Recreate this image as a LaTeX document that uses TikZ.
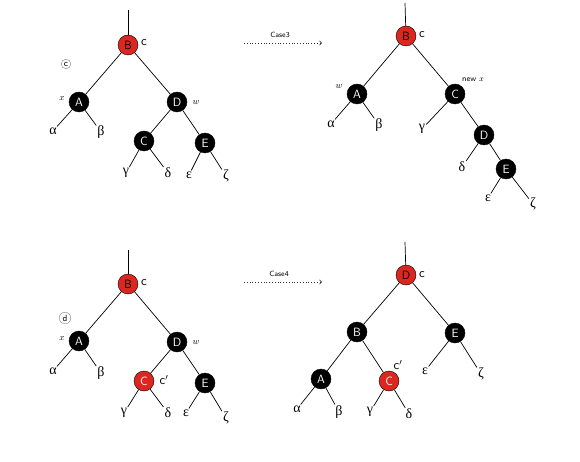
\documentclass[tikz,border=0pt]{standalone}
\usepackage{amsmath, amssymb}
\usepackage{fontspec}
\usepackage{tikz}
\usetikzlibrary{arrows}
\newfontfamily\greekfont{Liberation Serif}
\definecolor{rbred}{RGB}{220,38,32}

\begin{document}
\begin{tikzpicture}[
						x=1pt, y=-1pt,
						every node/.style={font=\small},
						blackkey/.style={circle, draw, fill=black, text=white, minimum size=20pt, inner sep=0pt, font=\sffamily\fontsize{12}{12}\selectfont},
						redkey/.style={blackkey, fill=rbred, text=black},
						leaf/.style={inner sep=1pt, font=\greekfont\fontsize{14}{14}\selectfont},
						side/.style={inner sep=0pt, font=\sffamily\fontsize{13}{13}\selectfont},
						mathside/.style={inner sep=0pt, font=\fontsize{9}{9}\selectfont},
						casetag/.style={circle, draw=gray, thin, inner sep=1.3pt, font=\sffamily\fontsize{9}{9}\selectfont},
						link/.style={draw, line width=0.7pt},
						step arrow/.style={draw=black!80, dotted, thick, -to}
				]
    \useasboundingbox (0,0) rectangle (580,462);

    % case (c): before
    \coordinate (top1) at (128,10);
    \node[redkey] (B1) at (128,45) {B};
    \node[side] (c1) at (144,43) {c};
    \node[casetag] (tagc) at (66,64) {c};
    \node[blackkey] (A1) at (79,102) {A};
    \node[mathside] (x1) at (62,99) {$x$};
    \node[blackkey] (D1) at (177,102) {D};
    \node[mathside] (w1) at (196,103) {$w$};
    \node[blackkey] (C1) at (144,141) {C};
    \node[blackkey] (E1) at (205,143) {E};
    \node[leaf] (al1) at (53,131) {α};
    \node[leaf] (be1) at (101,132) {β};
    \node[leaf] (ga1) at (126,173) {γ};
    \node[leaf] (de1) at (168,173) {δ};
    \node[leaf] (ep1) at (189,175) {ε};
    \node[leaf] (ze1) at (226,176) {ζ};
    \draw[link] (top1) -- (B1);
    \draw[link] (B1) -- (A1);
    \draw[link] (B1) -- (D1);
    \draw[link] (A1) -- (al1);
    \draw[link] (A1) -- (be1);
    \draw[link] (D1) -- (C1);
    \draw[link] (D1) -- (E1);
    \draw[link] (C1) -- (ga1);
    \draw[link] (C1) -- (de1);
    \draw[link] (E1) -- (ep1);
    \draw[link] (E1) -- (ze1);

    % case 3 step
    \coordinate (from3) at (244,43);
    \coordinate (to3) at (322,43);
    \draw[step arrow] (from3) -- (to3);
    \node[inner sep=0pt, font=\sffamily\fontsize{7.5}{7.5}\selectfont] (case3) at (280,35) {Case3};

    % case (c): after
    \coordinate (top2) at (405,3);
    \node[redkey] (B2) at (406,36) {B};
    \node[side] (c2) at (422,35) {c};
    \node[blackkey] (A2) at (357,94) {A};
    \node[mathside] (w2) at (339,87) {$w$};
    \node[blackkey] (C2) at (455,94) {C};
    \node[inner sep=0pt, font=\sffamily\fontsize{8}{8}\selectfont] (newx) at (473,80) {new $x$};
    \node[blackkey] (D2) at (484,135) {D};
    \node[blackkey] (E2) at (506,169) {E};
    \node[leaf] (al2) at (331,124) {α};
    \node[leaf] (be2) at (379,125) {β};
    \node[leaf] (ga2) at (422,129) {γ};
    \node[leaf] (de2) at (462,167) {δ};
    \node[leaf] (ep2) at (488,198) {ε};
    \node[leaf] (ze2) at (533,204) {ζ};
    \draw[link] (top2) -- (B2);
    \draw[link] (B2) -- (A2);
    \draw[link] (B2) -- (C2);
    \draw[link] (A2) -- (al2);
    \draw[link] (A2) -- (be2);
    \draw[link] (C2) -- (ga2);
    \draw[link] (C2) -- (D2);
    \draw[link] (D2) -- (de2);
    \draw[link] (D2) -- (E2);
    \draw[link] (E2) -- (ep2);
    \draw[link] (E2) -- (ze2);

    % case (d): before
    \coordinate (top3) at (128,250);
    \node[redkey] (B3) at (128,284) {B};
    \node[side] (c3) at (144,283) {c};
    \node[casetag] (tagd) at (65,318) {d};
    \node[blackkey] (A3) at (79,341) {A};
    \node[mathside] (x3) at (62,339) {$x$};
    \node[blackkey] (D3) at (177,342) {D};
    \node[mathside] (w3) at (196,343) {$w$};
    \node[redkey, text=white] (C3) at (144,381) {C};
    \node[side] (cc3) at (164,380) {c$'$};
    \node[blackkey] (E3) at (205,383) {E};
    \node[leaf] (al3) at (53,371) {α};
    \node[leaf] (be3) at (101,373) {β};
    \node[leaf] (ga3) at (124,413) {γ};
    \node[leaf] (de3) at (168,413) {δ};
    \node[leaf] (ep3) at (186,413) {ε};
    \node[leaf] (ze3) at (226,418) {ζ};
    \draw[link] (top3) -- (B3);
    \draw[link] (B3) -- (A3);
    \draw[link] (B3) -- (D3);
    \draw[link] (A3) -- (al3);
    \draw[link] (A3) -- (be3);
    \draw[link] (D3) -- (C3);
    \draw[link] (D3) -- (E3);
    \draw[link] (C3) -- (ga3);
    \draw[link] (C3) -- (de3);
    \draw[link] (E3) -- (ep3);
    \draw[link] (E3) -- (ze3);

    % case 4 step
    \coordinate (from4) at (244,282);
    \coordinate (to4) at (322,282);
    \draw[step arrow] (from4) -- (to4);
    \node[inner sep=0pt, font=\sffamily\fontsize{7.5}{7.5}\selectfont] (case4) at (279,274) {Case4};

    % case (d): after
    \coordinate (top4) at (405,242);
    \node[redkey] (D4) at (406,275) {D};
    \node[side] (c4) at (422,275) {c};
    \node[blackkey] (B4) at (357,332) {B};
    \node[blackkey] (E4) at (455,333) {E};
    \node[blackkey] (A4) at (321,379) {A};
    \node[redkey, text=white] (C4) at (389,381) {C};
    \node[side] (cc4) at (398,365) {c$'$};
    \node[leaf] (ep4) at (425,371) {ε};
    \node[leaf] (ze4) at (481,374) {ζ};
    \node[leaf] (al4) at (297,409) {α};
    \node[leaf] (be4) at (339,412) {β};
    \node[leaf] (ga4) at (370,412) {γ};
    \node[leaf] (de4) at (409,414) {δ};
    \draw[link] (top4) -- (D4);
    \draw[link] (D4) -- (B4);
    \draw[link] (D4) -- (E4);
    \draw[link] (B4) -- (A4);
    \draw[link] (B4) -- (C4);
    \draw[link] (E4) -- (ep4);
    \draw[link] (E4) -- (ze4);
    \draw[link] (A4) -- (al4);
    \draw[link] (A4) -- (be4);
    \draw[link] (C4) -- (ga4);
    \draw[link] (C4) -- (de4);

  \end{tikzpicture}
\end{document}
